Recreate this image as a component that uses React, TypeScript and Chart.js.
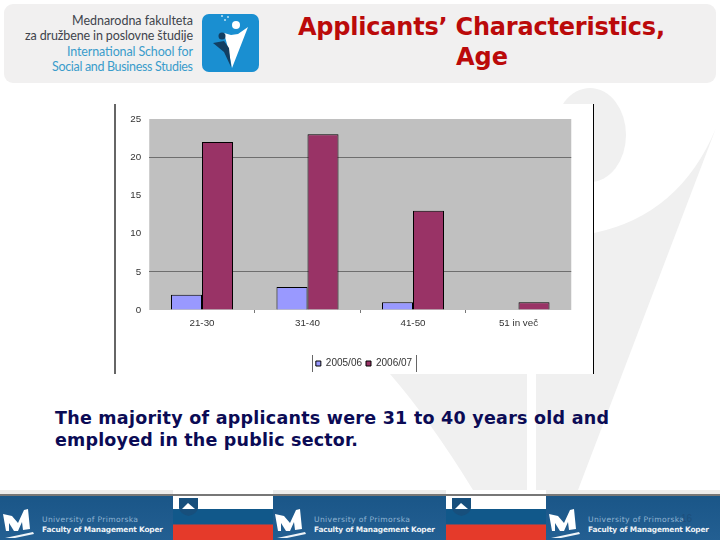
import React, { useEffect, useRef } from "react";
import { Chart, registerables } from "chart.js";

Chart.register(...registerables);

const categories = ["21-30", "31-40", "41-50", "51 in več"];
const series2005 = [2, 3, 1, null];
const series2006 = [22, 23, 13, 1];
const visibleGridValues = [5, 20];
const seriesNames = ["2005/06", "2006/07"];

const footerLogoX = [3, 275, 549];
const flagX = [173, 446];

const plotBackground = {
  id: "plotBackground",
  beforeDraw(chart: any) {
    const { ctx, chartArea: a } = chart;
    ctx.save();
    ctx.fillStyle = "#c0c0c0";
    ctx.fillRect(a.left, a.top, a.right - a.left, a.bottom - a.top);
    ctx.restore();
  },
};

function FooterLogo({ x }: { x: number }) {
  const p = (pts: number[][]) => pts.map((q, i) => `${i ? "L" : "M"}${x + q[0]} ${q[1]}`).join(" ") + " Z";
  return (
    <g>
      <path
        d={p([[0, 514], [9, 516], [15, 523], [21, 510], [25, 509], [27, 529], [20, 530], [19, 522], [15, 531], [11, 531], [6, 523], [6, 531], [3, 531]])}
        fill="#fff"
      />
      <path d={p([[2, 538], [30, 532], [31, 534], [12, 538]])} fill="#eef4f8" />
      <text x={x + 39} y={522} fontFamily="DejaVu Sans" fontSize={7.6} fill="#8fb4d2" textLength={96} lengthAdjust="spacing">
        University of Primorska
      </text>
      <text x={x + 39} y={532} fontFamily="DejaVu Sans" fontWeight="bold" fontSize={7.4} fill="#eef3f7" textLength={121} lengthAdjust="spacing">
        Faculty of Management Koper
      </text>
    </g>
  );
}

function Flag({ x }: { x: number }) {
  return (
    <g>
      <rect x={x} y={490} width={100} height={4} fill="#fff" />
      <rect x={x} y={496} width={100} height={13} fill="#fff" />
      <rect x={x} y={509} width={100} height={15.5} fill="#11588a" />
      <rect x={x} y={524.5} width={100} height={15.5} fill="#e53a2a" />
      <path d={`M${x + 6} 498 L${x + 25} 498 L${x + 25} 508 Q${x + 24} 514 ${x + 15.5} 516 Q${x + 7} 514 ${x + 6} 508 Z`} fill="#174f7c" />
      <path d={`M${x + 9} 509 L${x + 15} 503 L${x + 22} 509 Z`} fill="#fff" />
    </g>
  );
}

export default function App() {
  const ref = useRef<HTMLCanvasElement>(null);
  useEffect(() => {
    const chart = new Chart(ref.current as HTMLCanvasElement, {
      type: "bar",
      data: {
        labels: categories,
        datasets: [
          { label: seriesNames[0], data: series2005, backgroundColor: "#9999ff", borderColor: "#000", borderWidth: 1, categoryPercentage: 0.588, barPercentage: 1 },
          { label: seriesNames[1], data: series2006, backgroundColor: "#993366", borderColor: "#000", borderWidth: 1, categoryPercentage: 0.588, barPercentage: 1 },
        ],
      },
      options: {
        responsive: false,
        animation: false,
        devicePixelRatio: 1,
        layout: { padding: { top: 15, right: 0, bottom: 5.5, left: 0 } },
        plugins: {
          title: { display: false },
          tooltip: { enabled: false },
          legend: {
            display: true,
            position: "bottom",
            labels: {
              boxWidth: 5,
              boxHeight: 5,
              padding: 4,
              color: "#333",
              font: { family: "Liberation Sans", size: 10 },
            },
          },
        },
        scales: {
          x: {
            offset: true,
            afterFit(s: any) {
              s.height = 44.5;
            },
            border: { display: false },
            grid: {
              offset: true,
              drawOnChartArea: false,
              drawTicks: true,
              tickLength: 3,
              tickColor: (c: any) => (c.index >= 1 && c.index <= 3 ? "#777" : "transparent"),
            },
            ticks: {
              color: "#333",
              padding: 4,
              maxRotation: 0,
              font: { family: "Liberation Sans", size: 9.8 },
            },
          },
          y: {
            min: 0,
            max: 25,
            afterFit(s: any) {
              s.width = 34.25;
            },
            border: { display: false },
            grid: {
              drawTicks: false,
              lineWidth: 1,
              color: (c: any) => (c.tick && visibleGridValues.includes(c.tick.value) ? "#6e6e6e" : "transparent"),
            },
            ticks: {
              stepSize: 5,
              color: "#333",
              padding: 8,
              font: { family: "Liberation Sans", size: 9.8 },
            },
          },
          spacer: {
            type: "linear",
            position: "right",
            afterFit(s: any) {
              s.width = 41.75;
            },
            border: { display: false },
            grid: { display: false, drawOnChartArea: false },
            ticks: { display: false },
          },
        },
      },
      plugins: [plotBackground],
    } as any);
    return () => chart.destroy();
  }, []);

  return (
    <div style={{ position: "absolute", left: 0, top: 0, width: 720, height: 540, overflow: "hidden", background: "#fff" }}>
      <svg width={720} height={540} style={{ position: "absolute", left: 0, top: 0 }}>
        {/* watermark */}
        <ellipse cx={590} cy={135} rx={36} ry={47} fill="#f0f0f0" />
        <path d="M594 233 Q680 215 716 128 L578 490 L536 490 L536 374 L594 374 Z" fill="#f0f0f0" />
        <path d="M390 374 Q430 420 473 490 L527 490 L527 374 Z" fill="#f0f0f0" />
        {/* header panel */}
        <rect x={4} y={4} width={712} height={79} rx={9} fill="#f1f0f0" />
        <g fontFamily="Lato" textAnchor="end" fontSize={12.5}>
          <text x={193} y={25} fill="#40444c" textLength={121} lengthAdjust="spacing">Mednarodna fakulteta</text>
          <text x={193} y={40} fill="#40444c" textLength={168} lengthAdjust="spacing">za družbene in poslovne študije</text>
          <text x={193} y={56} fill="#3a9ccb" textLength={126} lengthAdjust="spacing">International School for</text>
          <text x={193} y={71} fill="#3a9ccb" textLength={141} lengthAdjust="spacing">Social and Business Studies</text>
        </g>
        <rect x={202} y={14} width={57} height={58} rx={7} fill="#1a8fd1" />
        <circle cx={222} cy={16} r={1} fill="#bfe3f5" />
        <circle cx={228} cy={17} r={1} fill="#bfe3f5" />
        <circle cx={225} cy={20} r={1} fill="#bfe3f5" />
        <circle cx={236} cy={25} r={4} fill="#fff" />
        <path d="M224 33 L231 35 L238 34 L248 27 L241 45 L232 68 L228 48 Z" fill="#fff" />
        <circle cx={222} cy={36} r={3.5} fill="#123f63" />
        <path d="M213 43 L224 41 L229 48 L231 67 L224 52 Z" fill="#123f63" />
        {/* title */}
        <g fontFamily="DejaVu Sans" fontWeight="bold" fontSize={24} fill="#bb0a0a" textAnchor="middle">
          <text x={481.5} y={35} textLength={367} lengthAdjust="spacing">Applicants’ Characteristics,</text>
          <text x={482} y={65}>Age</text>
        </g>
        {/* chart panel */}
        <rect x={115} y={104} width={479} height={270} fill="#fff" />
        <rect x={114} y={104} width={2} height={270} fill="#666" />
        <rect x={593} y={104} width={1} height={270} fill="#000" />
        {/* body */}
        <g fontFamily="DejaVu Sans" fontWeight="bold" fontSize={17.5} fill="#0b0b55">
          <text x={55} y={424} textLength={554} lengthAdjust="spacing">The majority of applicants were 31 to 40 years old and</text>
          <text x={55} y={446} textLength={303} lengthAdjust="spacing">employed in the public sector.</text>
        </g>
        {/* footer */}
        <rect x={0} y={490} width={720} height={4} fill="#ececec" />
        <defs>
          <linearGradient id="band" x1="0" y1="0" x2="0" y2="1">
            <stop offset="0" stopColor="#1a5688" />
            <stop offset="1" stopColor="#235f92" />
          </linearGradient>
        </defs>
        <rect x={0} y={496} width={720} height={44} fill="url(#band)" />
        {flagX.map((x) => (
          <Flag key={x} x={x} />
        ))}
        <rect x={0} y={494} width={720} height={2} fill="#777" />
        {footerLogoX.map((x) => (
          <FooterLogo key={x} x={x} />
        ))}
        <text x={681} y={522} fontFamily="Liberation Sans" fontSize={10} fill="#1d4f7c">16</text>
      </svg>
      <canvas
        ref={ref}
        width={498}
        height={280}
        style={{ position: "absolute", left: 115, top: 104, width: 498, height: 280 }}
      />
      <svg width={720} height={540} style={{ position: "absolute", left: 0, top: 0, pointerEvents: "none" }}>
        <rect x={312} y={355} width={1} height={17} fill="#666" />
        <rect x={416} y={355} width={1} height={17} fill="#666" />
      </svg>
    </div>
  );
}
